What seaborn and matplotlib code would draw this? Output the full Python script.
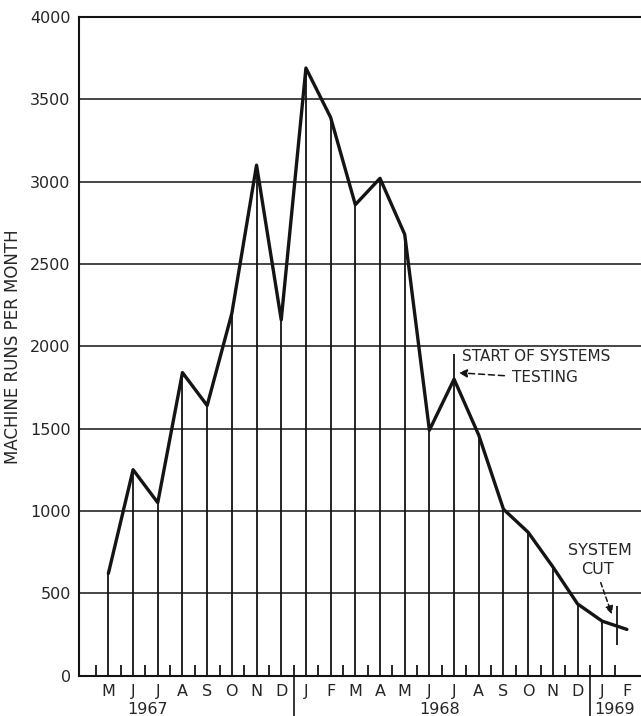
import numpy as np
import pandas as pd
import seaborn as sns
import matplotlib.pyplot as plt
import matplotlib.transforms as mtransforms

# month-by-month machine runs, May 1967 .. Feb 1969
months = ["M", "J", "J", "A", "S", "O", "N", "D",
          "J", "F", "M", "A", "M", "J", "J", "A", "S", "O", "N", "D",
          "J", "F"]
years = ["1967", "1968", "1969"]
runs = [620, 1250, 1050, 1840, 1640, 2200, 3100, 2160,
        3690, 3390, 2860, 3020, 2680, 1490, 1800, 1460, 1010, 870, 660, 435,
        330, 280]

df = pd.DataFrame({"idx": np.arange(len(runs)), "runs": runs})

sns.set_style("white")
plt.rcParams["font.family"] = ["DejaVu Sans"]

ink = "#141414"

fig = plt.figure(figsize=(6.41, 7.16), dpi=100)
ax = fig.add_axes([79 / 641, 1 - 675.5 / 716, 1 - 79 / 641, (675.5 - 17) / 716])

# horizontal grid
for y in range(500, 4000, 500):
    ax.axhline(y, color=ink, lw=1.1, zorder=1)

# drop lines from each month up to the curve (none at the last month)
ax.vlines(df.idx[:-1], 0, df.runs[:-1], color=ink, lw=1.3, zorder=2)
# start of systems testing marker (July 1968)
ax.vlines(14, df.runs[14], 1950, color=ink, lw=1.3, zorder=2)
# system cut marker
ax.vlines(20.6, 186, 425, color=ink, lw=1.3, zorder=2)

sns.lineplot(data=df, x="idx", y="runs", color=ink, lw=2.4, ax=ax, zorder=3)

ax.set_xlim(-1.19, 21.57)
ax.set_ylim(0, 4000)

ax.set_xticks(df.idx)
ax.set_xticklabels(months, fontsize=11.5)
ax.set_xticks(np.arange(-0.5, 21, 1), minor=True)
ax.tick_params(axis="x", which="major", length=0, pad=6)
ax.tick_params(axis="x", which="minor", direction="in", length=8, width=1.3,
               color=ink, bottom=True)
ax.set_yticks(range(0, 4001, 500))
ax.tick_params(axis="y", length=0, pad=6, labelsize=11.5)
ax.set_xlabel("")
ax.set_ylabel("MACHINE RUNS PER MONTH", fontsize=12, labelpad=6)

for s in ["left", "top", "bottom"]:
    ax.spines[s].set_visible(True)
    ax.spines[s].set_color(ink)
    ax.spines[s].set_linewidth(1.5)
ax.spines["right"].set_visible(False)

# year separators and year labels under the axis
trans = mtransforms.blended_transform_factory(ax.transData, ax.transAxes)
for xs in [7.5, 19.5]:
    ax.plot([xs, xs], [0, -0.065], transform=trans, color=ink, lw=1.2,
            clip_on=False)
for yr, xc in zip(years, [1.6, 13.43, 20.5]):
    ax.text(xc, -0.052, yr, transform=trans, ha="center", va="center",
            fontsize=11.5)

# annotations
ax.text(14.32, 1935, "START OF SYSTEMS", fontsize=11, va="center", ha="left")
ax.text(16.34, 1813, "TESTING", fontsize=11, va="center", ha="left")
ax.annotate("", xy=(14.08, 1840), xytext=(16.15, 1820),
            arrowprops=dict(arrowstyle="-|>", linestyle=(0, (4, 2.5)),
                            color=ink, lw=1.1, mutation_scale=12))

ax.text(19.9, 762, "SYSTEM", fontsize=11.5, ha="center", va="center")
ax.text(19.8, 641, "CUT", fontsize=11.5, ha="center", va="center")
ax.annotate("", xy=(20.43, 356), xytext=(19.9, 580),
            arrowprops=dict(arrowstyle="-|>", linestyle=(0, (3, 2)),
                            color=ink, lw=1.1, mutation_scale=12))

fig.savefig("out.png", dpi=100)
